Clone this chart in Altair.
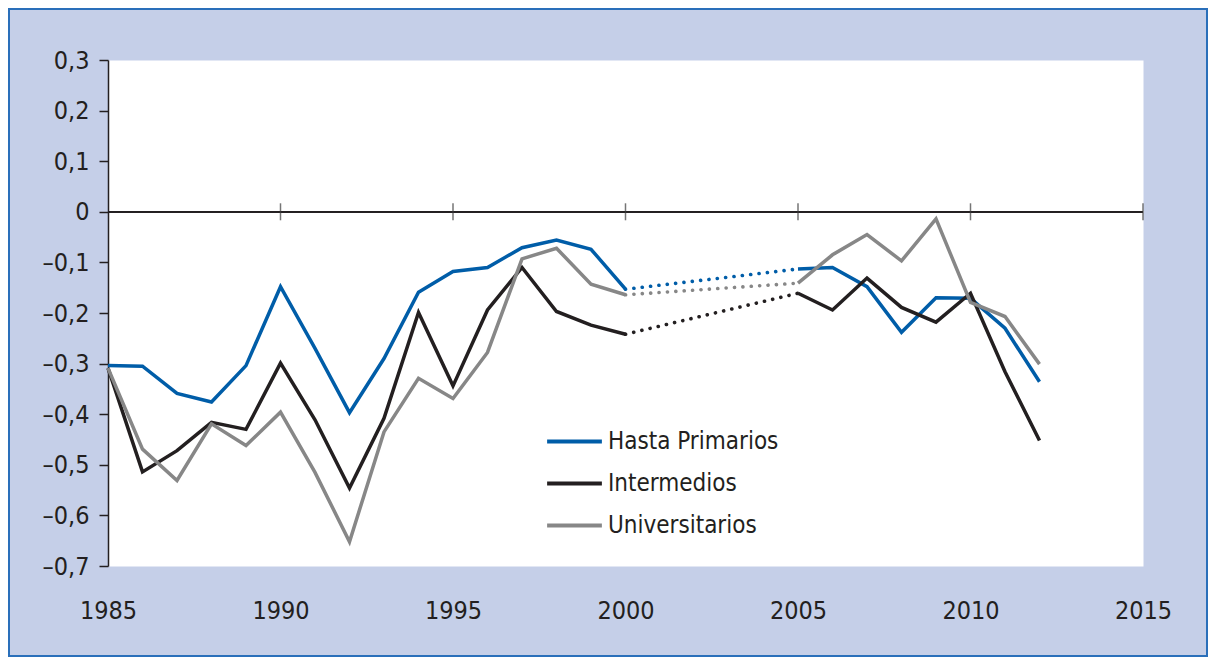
import altair as alt
import pandas as pd

# ---- data ----
series_names = ["Hasta Primarios", "Intermedios", "Universitarios"]
series_colors = ["#005da8", "#231f20", "#878787"]

years_a = list(range(1985, 2001))
years_b = list(range(2005, 2013))

hasta_a = [-0.304, -0.305, -0.359, -0.376, -0.304, -0.148, -0.270, -0.397,
           -0.290, -0.159, -0.118, -0.110, -0.071, -0.056, -0.074, -0.153]
hasta_b = [-0.113, -0.110, -0.148, -0.238, -0.170, -0.171, -0.230, -0.336]

inter_a = [-0.309, -0.514, -0.472, -0.416, -0.430, -0.299, -0.411, -0.546,
           -0.408, -0.199, -0.344, -0.194, -0.110, -0.197, -0.224, -0.242]
inter_b = [-0.161, -0.194, -0.131, -0.189, -0.218, -0.161, -0.316, -0.452]

univ_a = [-0.309, -0.469, -0.531, -0.419, -0.462, -0.396, -0.515, -0.652,
          -0.435, -0.329, -0.369, -0.278, -0.093, -0.072, -0.143, -0.164]
univ_b = [-0.141, -0.085, -0.045, -0.097, -0.014, -0.179, -0.207, -0.301]

y_ticks = [0.3, 0.2, 0.1, 0.0, -0.1, -0.2, -0.3, -0.4, -0.5, -0.6, -0.7]
x_ticks = [1985, 1990, 1995, 2000, 2005, 2010, 2015]
x_marks = [1990, 1995, 2000, 2005, 2010, 2015]

# ---- tables ----
solid_rows = []
dot_rows = []
for name, a, b in zip(series_names, [hasta_a, inter_a, univ_a], [hasta_b, inter_b, univ_b]):
    for yr, v in zip(years_a, a):
        solid_rows.append({"series": name, "year": yr, "value": v, "seg": "a"})
    for yr, v in zip(years_b, b):
        solid_rows.append({"series": name, "year": yr, "value": v, "seg": "b"})
    dot_rows.append({"series": name, "year": years_a[-1], "value": a[-1]})
    dot_rows.append({"series": name, "year": years_b[0], "value": b[0]})
solid_df = pd.DataFrame(solid_rows)
dot_df = pd.DataFrame(dot_rows)
tick_df = pd.DataFrame({"year": x_marks})

FONT = "Liberation Sans Narrow, DejaVu Sans Condensed, sans-serif"
INK = "#231f20"
W, H = 1035, 506
PL, PT, PR, PB = 100, 52, 65, 91

xscale = alt.Scale(domain=[1985, 2015], nice=False, zero=False)
yscale = alt.Scale(domain=[-0.7, 0.3], nice=False, zero=False)

color = alt.Color(
    "series:N",
    scale=alt.Scale(domain=series_names, range=series_colors),
    legend=alt.Legend(
        title=None, orient="none", legendX=437, legendY=352,
        symbolType="stroke", symbolSize=3000, symbolStrokeWidth=4,
        labelFont=FONT, labelFontSize=24, labelColor=INK, labelOffset=4,
        labelLimit=400, rowPadding=0,
    ),
)

x_enc = alt.X(
    "year:Q", scale=xscale,
    axis=alt.Axis(values=x_ticks, format="d", title=None, domain=False, ticks=False,
                  grid=False, labelFlush=False, labelPadding=32, labelFont=FONT,
                  labelFontSize=25, labelColor=INK),
)
y_enc = alt.Y(
    "value:Q", scale=yscale,
    axis=alt.Axis(values=y_ticks, title=None, grid=False, labelFlush=False,
                  labelExpr="datum.value == 0 ? '0' : (datum.value < 0 ? '\u2013' : '') + replace(format(abs(datum.value), '.1f'), '.', ',')",
                  domainColor=INK, domainWidth=1.5, tickColor=INK, tickWidth=1.5,
                  tickSize=9, labelPadding=10, labelFont=FONT, labelFontSize=25,
                  labelColor=INK),
)

zero_line = alt.Chart(tick_df).mark_rule(color=INK, strokeWidth=1.5).encode(
    y=alt.datum(0)
)
zero_ticks = alt.Chart(tick_df).mark_tick(
    orient="vertical", size=17, thickness=1.5, color="#3a3a3a"
).encode(x=alt.X("year:Q", scale=xscale), y=alt.datum(0))

dotted = alt.Chart(dot_df).mark_line(
    strokeWidth=3.6, strokeDash=[0.1, 8.3], strokeCap="round"
).encode(x=x_enc, y=y_enc, color=color, detail="series:N")

solid = alt.Chart(solid_df).mark_line(strokeWidth=3.5, strokeJoin="miter").encode(
    x=x_enc, y=y_enc, color=color, detail="seg:N",
    order=alt.Order("year:Q"),
)

frame = alt.Chart(tick_df).mark_rect(
    fill="transparent", stroke="#2a6fba", strokeWidth=2
).encode(
    x=alt.value(-PL + 1), x2=alt.value(W + PR - 1),
    y=alt.value(-PT + 1), y2=alt.value(H + PB - 1),
)

chart = alt.layer(zero_line, zero_ticks, dotted, solid, frame).properties(
    width=W, height=H,
    padding={"left": PL, "top": PT, "right": PR, "bottom": PB},
    autosize=alt.AutoSizeParams(type="none"),
    background="#c5cfe8",
).configure_view(fill="white", stroke="transparent")

chart.save("out.html", embed_options={"renderer": "svg", "actions": False})
